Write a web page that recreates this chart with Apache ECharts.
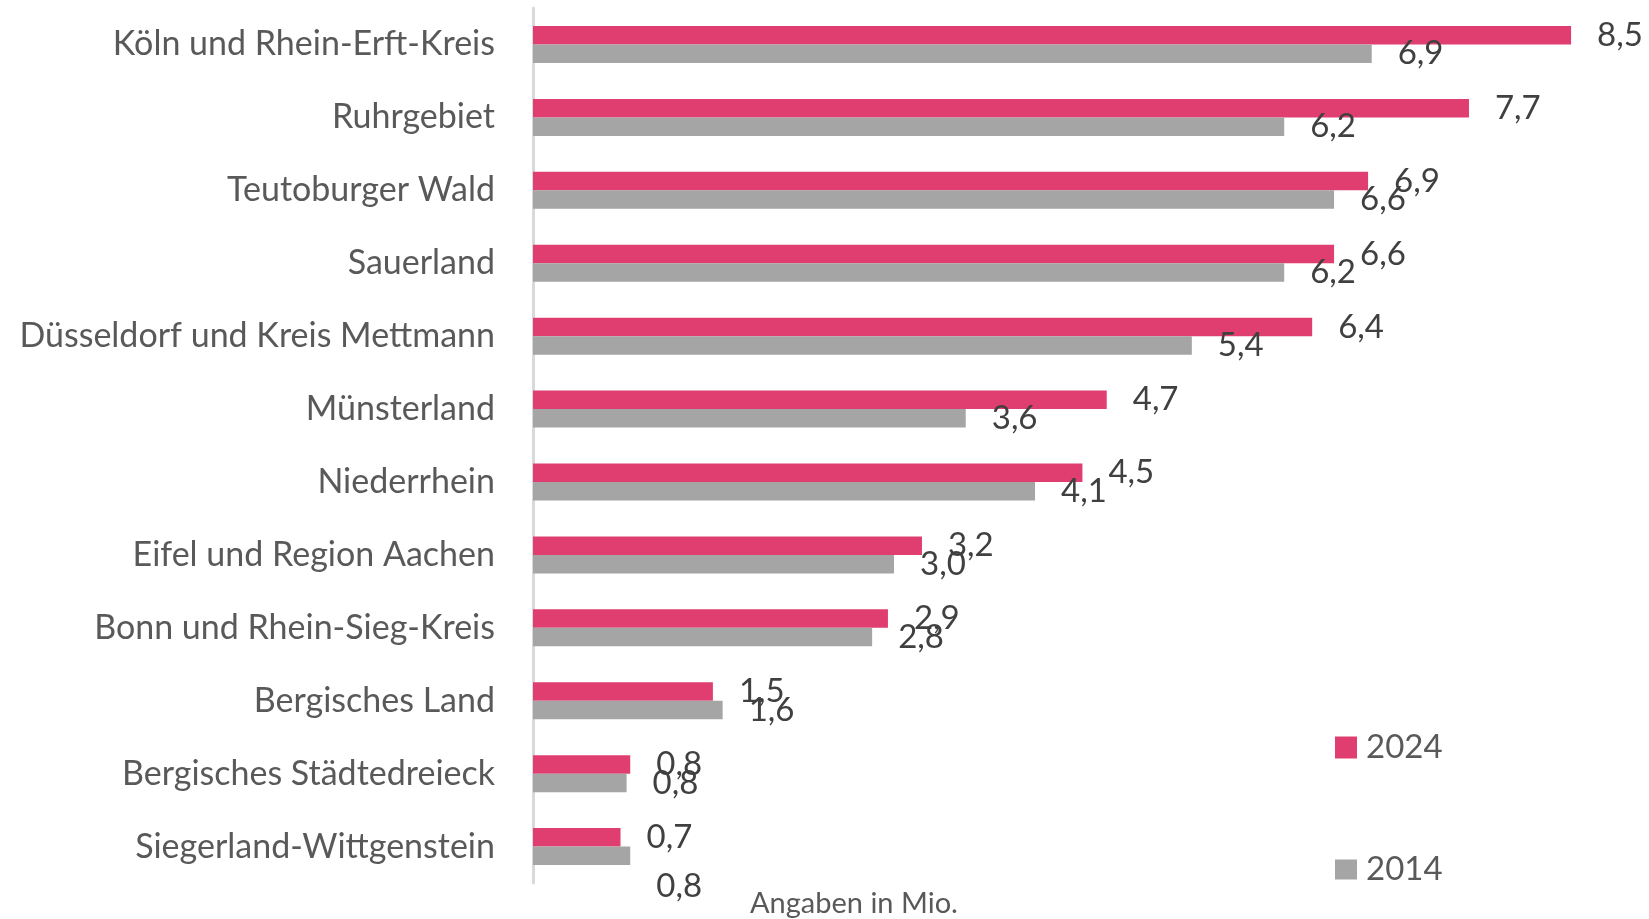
<!DOCTYPE html>
<html>
<head>
<meta charset="utf-8">
<script src="https://cdn.jsdelivr.net/npm/echarts@6/dist/echarts.min.js"></script>
<style>
html,body{margin:0;padding:0;background:#fff;}
#chart{width:1649px;height:919px;}
</style>
</head>
<body>
<div id="chart"></div>
<script>
var categories = [
  "Köln und Rhein-Erft-Kreis",
  "Ruhrgebiet",
  "Teutoburger Wald",
  "Sauerland",
  "Düsseldorf und Kreis Mettmann",
  "Münsterland",
  "Niederrhein",
  "Eifel und Region Aachen",
  "Bonn und Rhein-Sieg-Kreis",
  "Bergisches Land",
  "Bergisches Städtedreieck",
  "Siegerland-Wittgenstein"
];
var values2024 = [8.54, 7.70, 6.87, 6.59, 6.41, 4.72, 4.52, 3.20, 2.92, 1.48, 0.80, 0.72];
var values2014 = [6.90, 6.18, 6.59, 6.18, 5.42, 3.56, 4.13, 2.97, 2.79, 1.56, 0.77, 0.80];
var seriesNames = ["2024", "2014"];
var note = "Angaben in Mio.";

var PINK = "#E03E70";
var GRAY = "#A5A5A5";
var FONT = "Lato";

function fmt(p) { return p.value.toFixed(1).replace(".", ","); }

var data2014 = values2014.map(function (v, i) {
  var d = { value: v };
  if (i === values2014.length - 1) { d.label = { offset: [0, 31] }; }
  return d;
});

var chart = echarts.init(document.getElementById("chart"), null, { renderer: "canvas" });
chart.setOption({
  animation: false,
  backgroundColor: "#fff",
  grid: { left: 533, right: 22, top: 8, bottom: 36, containLabel: false },
  legend: [
    {
      data: [seriesNames[0]], orient: "vertical", left: 1330, top: 726,
      icon: "rect", itemWidth: 22, itemHeight: 22, itemGap: 0,
      textStyle: { fontFamily: FONT, fontSize: 33, color: "#595959", padding: [0, 0, 0, 4] }
    },
    {
      data: [seriesNames[1]], orient: "vertical", left: 1330, top: 848,
      icon: "rect", itemWidth: 22, itemHeight: 20, itemGap: 0,
      textStyle: { fontFamily: FONT, fontSize: 33, color: "#595959", padding: [0, 0, 0, 4] }
    }
  ],
  xAxis: {
    type: "value", min: 0, max: 9,
    show: false
  },
  yAxis: {
    type: "category", data: categories, inverse: true,
    axisLine: { show: true, lineStyle: { color: "#D9D9D9", width: 3 } },
    axisTick: { show: false },
    axisLabel: { fontFamily: FONT, fontSize: 34, color: "#595959", margin: 38 },
    splitLine: { show: false }
  },
  graphic: [{
    type: "text", left: 750, top: 889,
    style: { text: note, fontFamily: FONT, fontSize: 29, fill: "#595959" }
  }],
  series: [
    {
      name: seriesNames[0], type: "bar", data: values2024,
      barWidth: 18.5, barGap: "0%",
      itemStyle: { color: PINK },
      label: { show: true, position: "right", distance: 26, formatter: fmt,
               fontFamily: FONT, fontSize: 33, color: "#404040" }
    },
    {
      name: seriesNames[1], type: "bar", data: data2014,
      barWidth: 18.5, barGap: "0%",
      itemStyle: { color: GRAY },
      label: { show: true, position: "right", distance: 26, formatter: fmt,
               fontFamily: FONT, fontSize: 33, color: "#404040" }
    }
  ]
});
</script>
</body>
</html>
